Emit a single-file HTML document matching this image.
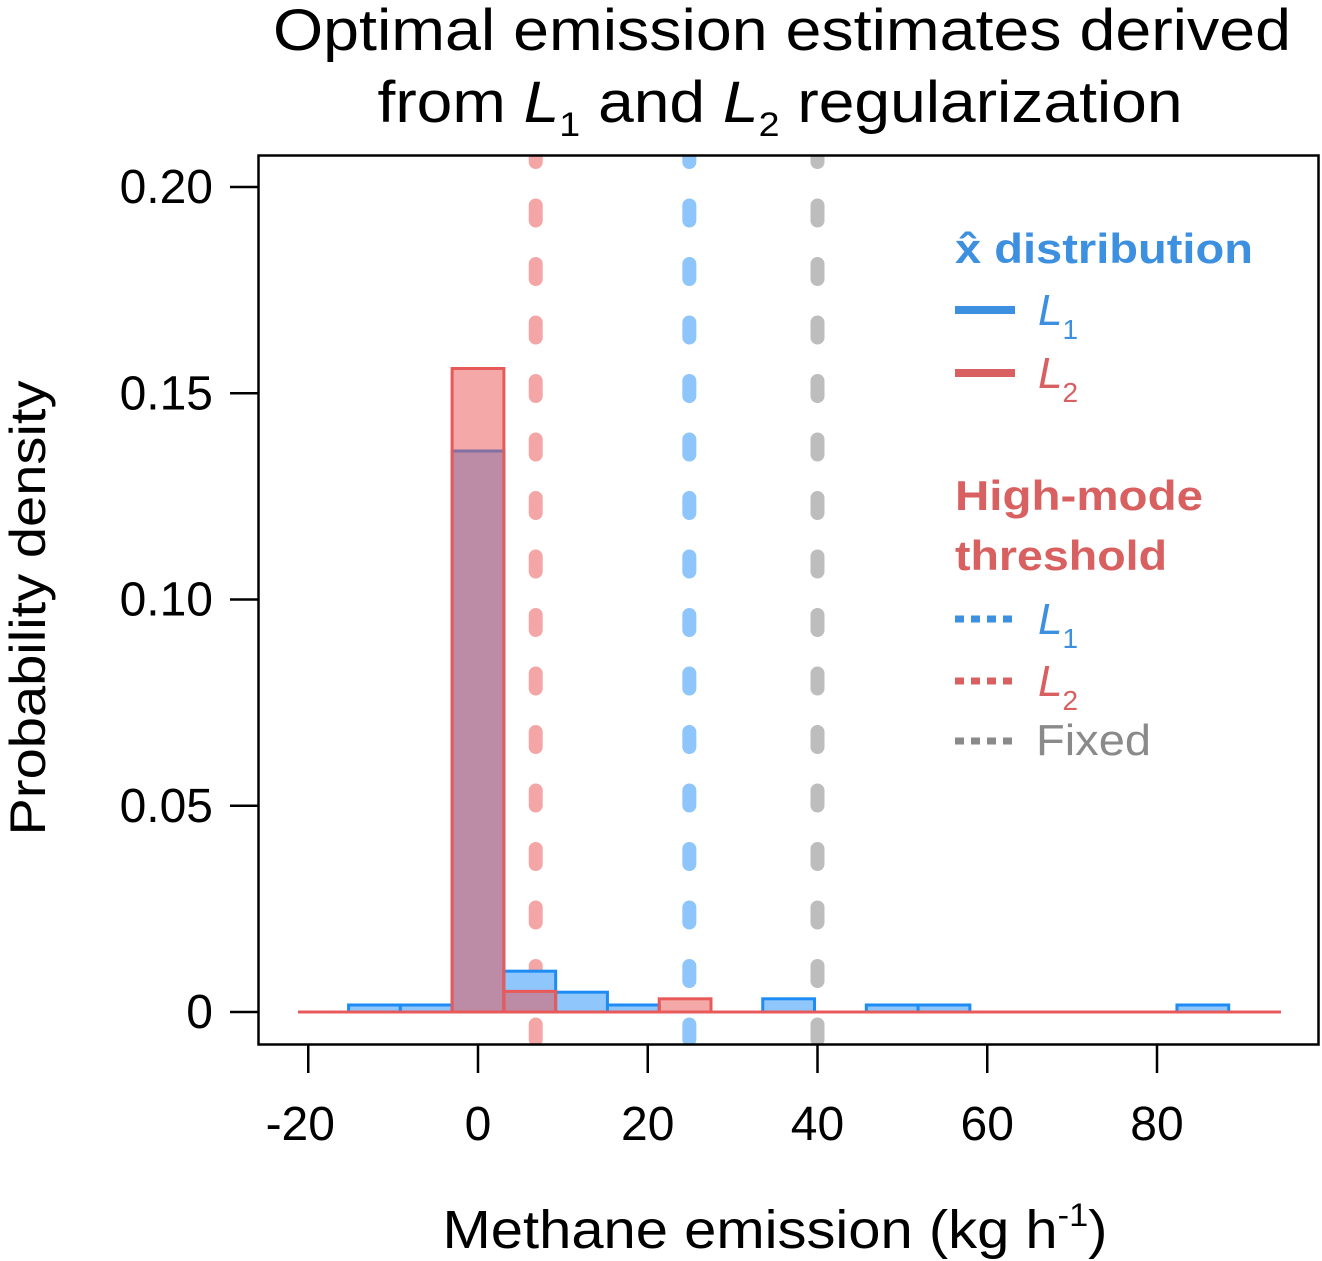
<!DOCTYPE html>
<html><head><meta charset="utf-8"><style>
html,body{margin:0;padding:0;background:#fff;}
svg{display:block;font-family:"Liberation Sans",sans-serif;}
</style></head><body>
<svg id="chart" width="1322" height="1261" viewBox="0 0 1322 1261" xmlns="http://www.w3.org/2000/svg">
<defs><clipPath id="plotclip"><rect x="259" y="156" width="1058" height="888"/></clipPath></defs>
<g>
<text x="782" y="50" font-size="58" text-anchor="middle" textLength="1018" lengthAdjust="spacingAndGlyphs">Optimal emission estimates derived</text>
<text x="780" y="122" font-size="58" text-anchor="middle" textLength="805" lengthAdjust="spacingAndGlyphs">from <tspan font-style="italic">L</tspan><tspan font-size="34" dy="14">1</tspan><tspan dy="-14"> and </tspan><tspan font-style="italic">L</tspan><tspan font-size="34" dy="14">2</tspan><tspan dy="-14"> regularization</tspan></text>
</g>
<g id="vlines" clip-path="url(#plotclip)"></g>
<g id="bars"></g>
<rect x="258.5" y="155.5" width="1060" height="889" fill="none" stroke="#000" stroke-width="2.5"/>
<g id="axes"></g>
<text transform="translate(45,608) rotate(-90)" font-size="50" text-anchor="middle" textLength="455" lengthAdjust="spacingAndGlyphs">Probability density</text>
<text x="775" y="1248" font-size="54" text-anchor="middle" textLength="665" lengthAdjust="spacingAndGlyphs">Methane emission (kg h<tspan font-size="32" dy="-22">-1</tspan><tspan dy="22">)</tspan></text>
<g>
<text x="955" y="263" font-size="42" font-weight="bold" fill="#3d8fe0" textLength="298" lengthAdjust="spacingAndGlyphs">x̂ distribution</text>
<line x1="955" y1="310" x2="1015" y2="310" stroke="#3d8fe0" stroke-width="8"/>
<text x="1038" y="325" font-size="44" font-style="italic" fill="#3d8fe0">L<tspan font-size="28" dy="14" font-style="normal">1</tspan></text>
<line x1="955" y1="373" x2="1015" y2="373" stroke="#d96060" stroke-width="8"/>
<text x="1038" y="388" font-size="44" font-style="italic" fill="#d96060">L<tspan font-size="28" dy="14" font-style="normal">2</tspan></text>
<text x="955" y="510" font-size="42" font-weight="bold" fill="#d96060" textLength="248" lengthAdjust="spacingAndGlyphs">High-mode</text>
<text x="955" y="570" font-size="42" font-weight="bold" fill="#d96060" textLength="212" lengthAdjust="spacingAndGlyphs">threshold</text>
<line x1="955" y1="619" x2="1015" y2="619" stroke="#3d8fe0" stroke-width="7" stroke-dasharray="9 7"/>
<text x="1038" y="634" font-size="44" font-style="italic" fill="#3d8fe0">L<tspan font-size="28" dy="14" font-style="normal">1</tspan></text>
<line x1="955" y1="681" x2="1015" y2="681" stroke="#d96060" stroke-width="7" stroke-dasharray="9 7"/>
<text x="1038" y="696" font-size="44" font-style="italic" fill="#d96060">L<tspan font-size="28" dy="14" font-style="normal">2</tspan></text>
<line x1="955" y1="741" x2="1015" y2="741" stroke="#8a8a8a" stroke-width="7" stroke-dasharray="9 7"/>
<text x="1036" y="755" font-size="44" fill="#8a8a8a" textLength="115" lengthAdjust="spacingAndGlyphs">Fixed</text>
</g>
</svg>
<script>
const binStart = -15.25;
const binWidth = 6.1;
const l1Density = [0.0017,0.0017,0.136,0.0099,0.0048,0.0017,0,0,0.0032,0,0.0017,0.0017,0,0,0,0,0.0017,0];
const l2Density = [0,0,0.156,0.005,0,0,0.0032,0,0,0,0,0,0,0,0,0,0,0];
const thresholdValues = [6.8, 24.9, 40];
const thresholdNames = ['threshold-l2','threshold-l1','threshold-fixed'];
const xTicks = [-20,0,20,40,60,80];
const xTickLabels = ['-20','0','20','40','60','80'];
const yTicks = [0,0.05,0.10,0.15,0.20];
const yTickLabels = ['0','0.05','0.10','0.15','0.20'];
const baseMin = -21.2, baseMax = 94.6;

const NS='http://www.w3.org/2000/svg';
function X(v){return 478 + v*8.4875;}
function Y(v){return 1012 - v*4125;}
function mk(tag, attrs, parent){const e=document.createElementNS(NS,tag);for(const k in attrs)e.setAttribute(k,attrs[k]);parent.appendChild(e);return e;}

const vl=document.getElementById('vlines');
const vcolors=['#f4a6a6','#8ec5fb','#bdbdbd'];
thresholdValues.forEach((v,i)=>{
  const l=mk('line',{x1:X(v),x2:X(v),y1:147,y2:1060,stroke:vcolors[i],'stroke-width':14,'stroke-linecap':'round','stroke-dasharray':'15 43.5'},vl);
  
  
});

const bars=document.getElementById('bars');
function drawSeries(arr, fill, stroke, name){
  const bl=mk('line',{x1:X(baseMin),x2:X(baseMax),y1:Y(0),y2:Y(0),stroke:stroke,'stroke-width':3},bars);
  
  
  arr.forEach((d,i)=>{
    if(d<=0) return;
    const x0=X(binStart+i*binWidth), x1=X(binStart+(i+1)*binWidth);
    const r=mk('rect',{x:x0,y:Y(d),width:x1-x0,height:Y(0)-Y(d),fill:fill,stroke:stroke,'stroke-width':3},bars);
    
    
  });
}
drawSeries(l1Density,'#8fc6fb','#1e8cf5','l1');
drawSeries(l2Density,'rgba(233,81,81,0.5)','#e85a5a','l2');

const ax=document.getElementById('axes');
xTicks.forEach((t,i)=>{
  const l=mk('line',{x1:X(t),x2:X(t),y1:1045,y2:1073,stroke:'#000','stroke-width':2.5},ax);
  
  
  const tx=mk('text',{x:X(t)-(t<0?8:0),y:1140,'font-size':48,'text-anchor':'middle'},ax);
  tx.textContent=xTickLabels[i];
  
  
});
yTicks.forEach((t,i)=>{
  const l=mk('line',{x1:230,x2:258,y1:Y(t),y2:Y(t),stroke:'#000','stroke-width':2.5},ax);
  
  
  const tx=mk('text',{x:213,y:Y(t)+16,'font-size':48,'text-anchor':'end'},ax);
  tx.textContent=yTickLabels[i];
  
  
});
</script>
</body></html>
